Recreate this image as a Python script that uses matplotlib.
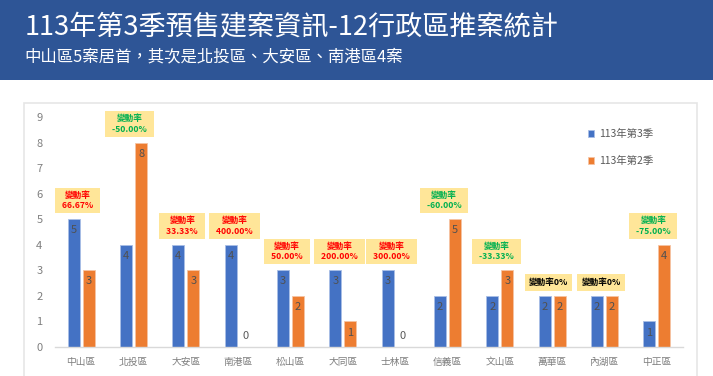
import matplotlib
matplotlib.use("Agg")
import matplotlib.pyplot as plt
from matplotlib.patches import Rectangle
import numpy as np

plt.rcParams['font.family'] = ['Noto Sans CJK TC', 'DejaVu Sans']

districts = ["中山區", "北投區", "大安區", "南港區", "松山區", "大同區",
             "士林區", "信義區", "文山區", "萬華區", "內湖區", "中正區"]
q3 = [5, 4, 4, 4, 3, 3, 3, 2, 2, 2, 2, 1]
q2 = [3, 8, 3, 0, 2, 1, 0, 5, 3, 2, 2, 4]
rate_labels = ["66.67%", "-50.00%", "33.33%", "400.00%", "50.00%", "200.00%",
               "300.00%", "-60.00%", "-33.33%", "0%", "0%", "-75.00%"]
series_names = ["113年第3季", "113年第2季"]
title = "113年第3季預售建案資訊-12行政區推案統計"
subtitle = "中山區5案居首，其次是北投區、大安區、南港區4案"
yticks = list(range(0, 10))

BLUE = "#4472C4"
ORANGE = "#ED7D31"
HEADER = "#2E5596"
W, H = 713, 376

fig = plt.figure(figsize=(W / 100, H / 100), dpi=100)
fig.patch.set_facecolor("white")

# header band
fig.patches.append(Rectangle((0, 1 - 80 / H), 1, 80 / H, transform=fig.transFigure,
                             facecolor=HEADER, edgecolor="none", zorder=0))
# chart panel
fig.patches.append(Rectangle((24 / W, -0.05), (697 - 24) / W, (376 - 103) / H + 0.05,
                             transform=fig.transFigure, facecolor="white",
                             edgecolor="#E6E6E6", linewidth=1.2, zorder=0))

t1 = fig.text(25 / W, 1 - 27 / H, title, color="white", fontsize=19, va="center", ha="left",
              fontweight="medium")
t2 = fig.text(24 / W, 1 - 57 / H, subtitle, color="white", fontsize=12, va="center", ha="left",
              fontweight="medium")
fig.canvas.draw()
r = fig.canvas.get_renderer()
w1 = t1.get_window_extent(r).width
t1.set_fontsize(19 * 535 / w1)
w2 = t2.get_window_extent(r).width
t2.set_fontsize(12 * 379 / w2)

ax = fig.add_axes([55 / W, 1 - 347 / H, (683 - 55) / W, (347 - 117) / H])
ax.set_facecolor("none")
ax.set_zorder(2)

x = np.arange(len(districts))
bw = 0.23
off = 0.145
b1 = ax.bar(x - off, q3, bw, color=BLUE, edgecolor="#A9BEE6", linewidth=0.6, label=series_names[0], zorder=2)
b2 = ax.bar(x + off, q2, bw, color=ORANGE, edgecolor="#F6C4A4", linewidth=0.6, label=series_names[1], zorder=2)

ax.set_xlim(-0.5, len(districts) - 0.5)
ax.set_ylim(0, 9)
ax.set_yticks(yticks)
ax.set_xticks(x)
ax.set_xticklabels(districts)
ax.tick_params(axis="both", length=0, colors="#7F7F7F")
ax.tick_params(axis="x", labelsize=7, pad=7)
ax.tick_params(axis="y", labelsize=8, pad=9)
for s in ["top", "right", "left"]:
    ax.spines[s].set_visible(False)
ax.spines["bottom"].set_color("#D9D9D9")
ax.spines["bottom"].set_linewidth(1)

# value labels
for bars, vals in ((b1, q3), (b2, q2)):
    for rect, v in zip(bars, vals):
        cx = rect.get_x() + rect.get_width() / 2
        if v > 0:
            ax.annotate(str(v), xy=(cx, v), xytext=(0, -8), textcoords="offset points",
                        ha="center", va="center", fontsize=8, color="#505050", zorder=3)
        else:
            ax.annotate(str(v), xy=(cx, 0), xytext=(0, 8), textcoords="offset points",
                        ha="center", va="center", fontsize=8, color="#595959", zorder=3)

# change-rate boxes
for i, lab in enumerate(rate_labels):
    top = max(q3[i], q2[i])
    if lab == "0%":
        txt = "變動率" + lab
        col = "black"
        pad = 0.5
    else:
        txt = "變動率\n  " + lab + "  "
        col = "#00B050" if lab.startswith("-") else "#FF0000"
        pad = 0.35
    ax.annotate(txt, xy=(i - 0.07, top), xytext=(0, 6.5), textcoords="offset points",
                ha="center", va="bottom", fontsize=6.2, color=col, fontweight="bold",
                linespacing=1.2, zorder=4, multialignment="center",
                bbox=dict(boxstyle=f"square,pad={pad}", facecolor="#FFE699", edgecolor="none"))

leg = ax.legend(loc="upper left", bbox_to_anchor=(529 / 628, 1 - (125 - 117) / 230),
                frameon=False, fontsize=7.5, handlelength=0.6, handleheight=0.6,
                handletextpad=0.4, labelspacing=1.6, borderaxespad=0)
for t in leg.get_texts():
    t.set_color("#595959")

fig.savefig("out.png", dpi=100)
